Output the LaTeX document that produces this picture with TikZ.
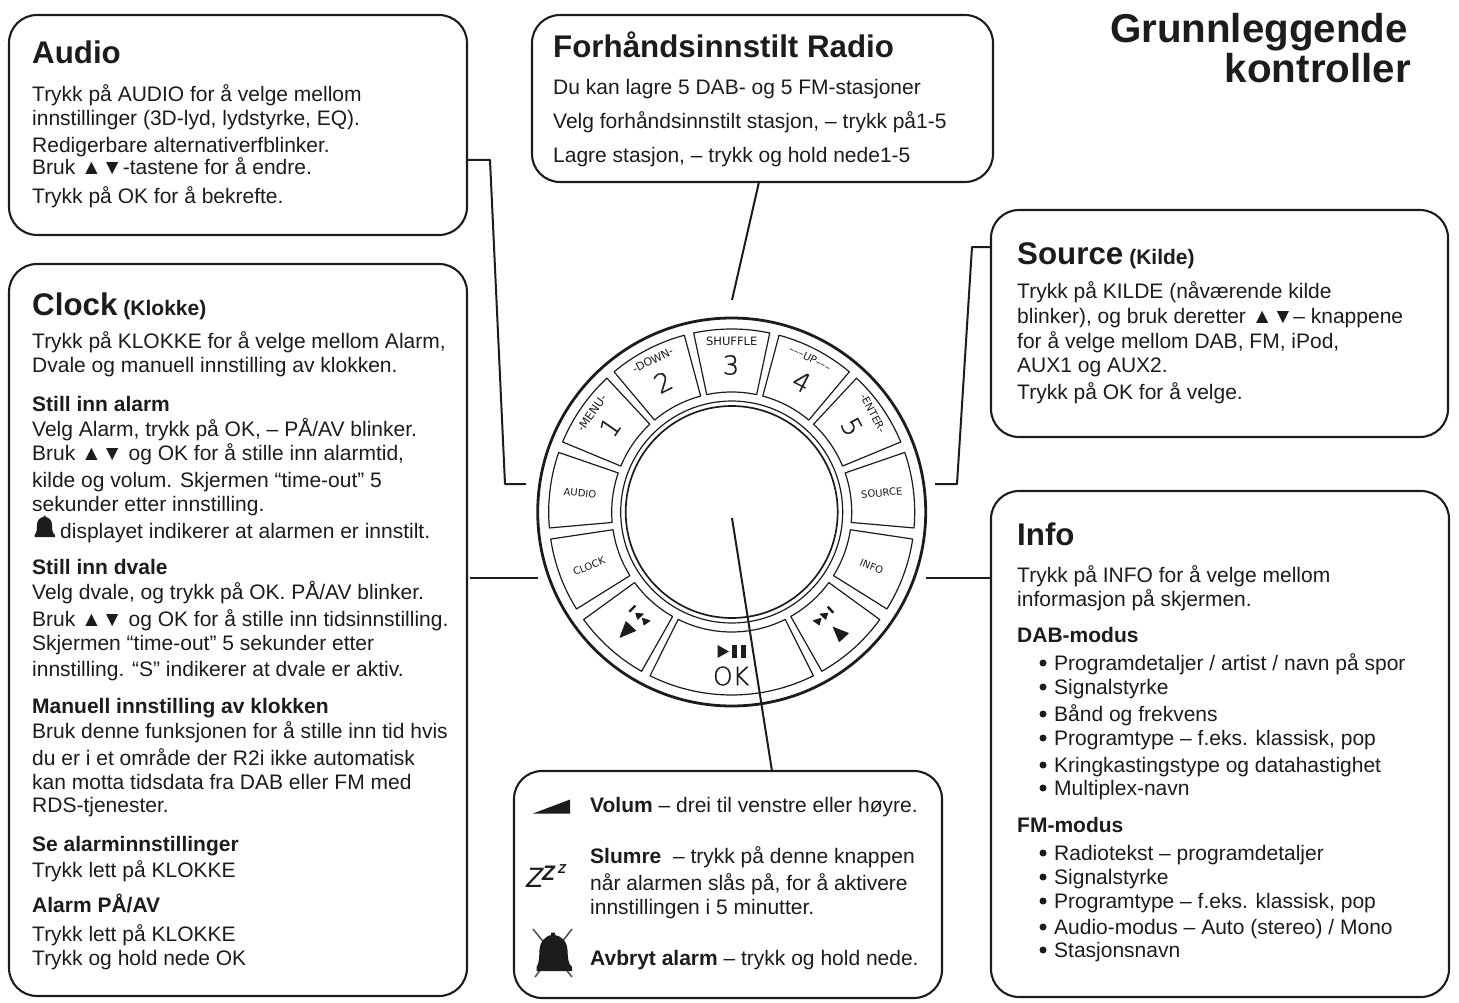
\documentclass[tikz,border=0pt]{standalone}
\usepackage{fontspec}
\setmainfont{Liberation Sans}
\newfontfamily\ringfont[FakeBold=1.2]{DejaVu Sans ExtraLight}
\newfontfamily\ringlabel{DejaVu Sans}
\definecolor{ink}{HTML}{1C1C1C}
\newcounter{tlc}
\newcommand{\fs}[1]{\fontsize{#1}{#1}\selectfont}
\newcommand{\tl}[3]{\stepcounter{tlc}\node[txt] (tl\arabic{tlc}) at (#1,#2) {#3};}
\newcommand{\hd}[3]{\stepcounter{tlc}\node[txt,font=\fs{21}\bfseries] (tl\arabic{tlc}) at (#1,#2) {#3};}
\newcommand{\ttl}[3]{\stepcounter{tlc}\node[txt,font=\fs{31.3}\bfseries] (tl\arabic{tlc}) at (#1,#2) {#3};}
\newcommand{\rl}[5]{\stepcounter{tlc}\node[ringtxt,font=\ringlabel\fs{#4},rotate=#3] (rl\arabic{tlc}) at (#1,#2) {#5};}
\newcommand{\rd}[5]{\stepcounter{tlc}\node[ringtxt,font=\ringfont\fs{#4},rotate=#3] (rd\arabic{tlc}) at (#1,#2) {#5};}
\newcommand{\bl}[2]{\stepcounter{tlc}\node[dotn] (bd\arabic{tlc}) at (1043,#1-7) {};\node[txt] (tl\arabic{tlc}) at (1054,#1) {#2};}
\tikzset{
 panel/.style={draw=ink,line width=2.1pt,rounded corners=28pt,fill=white,inner sep=0pt,outer sep=0pt,anchor=north west},
 txt/.style={anchor=base west,inner sep=0pt,text=ink,font=\fs{21}},
 ringtxt/.style={inner sep=0pt,text=ink,anchor=center},
 conn/.style={draw=ink,line width=2pt,line join=round},
 seg/.style={draw=ink,line width=1.2pt,fill=white,line join=round},
 dotn/.style={circle,fill=ink,minimum size=7pt,inner sep=0pt},
 icon/.style={fill=ink,draw=ink,line width=0.8pt,line join=round},
}
\begin{document}
\begin{tikzpicture}[x=1pt,y=-1pt]
\useasboundingbox (0,0) rectangle (1459,1003);
% panels
\node[panel,minimum width=458pt,minimum height=220pt] (audiobox) at (9,15) {};
\node[panel,minimum width=461pt,minimum height=167pt] (radiobox) at (532,15) {};
\node[panel,minimum width=458pt,minimum height=732pt] (clockbox) at (9,264) {};
\node[panel,minimum width=457pt,minimum height=227pt] (sourcebox) at (991,210) {};
\node[panel,minimum width=458pt,minimum height=506pt] (infobox) at (991,491) {};
\node[panel,minimum width=428pt,minimum height=227pt] (volbox) at (514,771) {};
% ring
\node[circle,draw=ink,line width=2.8pt,minimum size=388pt,inner sep=0pt] (ring) at (731.7,512) {};
\begin{scope}[shift={(731.7,512)},x=1pt,y=1pt]
\foreach \a/\b in {-12/12,15/40,43/67.5,71/95,98.5/122,126/150.5,153.5/206.5,209.5/234,238/261.5,265/289,292.5/317,320/345}{
  \draw[seg] (90+\a:183) arc[start angle=90+\a,end angle=90+\b,radius=183]
    -- (90+\b:120) arc[start angle=90+\b,end angle=90+\a,radius=120] -- cycle;
}
\draw[ink,line width=1.2pt] (0,0) circle[radius=111];
\draw[ink,line width=1.7pt] (0,0) circle[radius=106];
\end{scope}
% ring labels
\rl{731.7}{341}{0}{11.5}{SHUFFLE}
\rd{731}{365}{0}{26}{3}
\rl{652.7}{360}{27}{11}{-DOWN-}
\rd{663}{382}{27}{26}{2}
\rl{591.7}{413}{55}{11.5}{-MENU-}
\rd{610}{427}{55}{26}{1}
\rl{580}{493}{-5}{10}{AUDIO}
\rl{589}{566}{22}{10}{CLOCK}
\rl{810}{358}{-27}{10.5}{–––UP–––}
\rd{801.7}{381.7}{-27}{26}{4}
\rl{873}{413}{-62}{10.5}{-ENTER-}
\rd{851.7}{426.7}{-62}{26}{5}
\rl{881.7}{493}{5}{10}{SOURCE}
\rl{871.7}{566.7}{-22}{10}{INFO}
\rd{731}{676}{0}{25}{OK}
% transport icons
\filldraw[icon] (620,637.3) -- (626,621.7) -- (635.7,630.7) -- cycle;
\filldraw[icon] (643.4,614) -- (635.7,613.3) -- (637.7,619.3) -- cycle;
\filldraw[icon] (650,620.7) -- (642.4,618.3) -- (644,625) -- cycle;
\draw[ink,line width=2.4pt] (629.3,611.7) -- (635.3,605.7);
\filldraw[icon] (833.3,627.3) -- (848.3,633.3) -- (839.3,641.7) -- cycle;
\filldraw[icon] (820,614) -- (827.7,613.3) -- (825.7,619.3) -- cycle;
\filldraw[icon] (813.3,620.7) -- (821,618.3) -- (819.3,625) -- cycle;
\draw[ink,line width=2.4pt] (827.7,606.7) -- (833.3,612.7);
\fill[ink] (717.5,645) -- (717.5,658) -- (729,651.5) -- cycle;
\fill[ink] (732,645) rectangle (737,658);
\fill[ink] (741,645) rectangle (746,658);
% connectors
\coordinate (a1) at (490,160); \coordinate (a2) at (505,484); \coordinate (a3) at (526,484);
\draw[conn] (audiobox.east |- a1) -- (a1) -- (a2) -- (a3);
\coordinate (r1) at (759,182); \coordinate (r2) at (732,300);
\draw[conn] (r1) -- (r2);
\coordinate (s1) at (972,247); \coordinate (s2) at (957,484); \coordinate (s3) at (935,484);
\draw[conn] (sourcebox.west |- s1) -- (s1) -- (s2) -- (s3);
\coordinate (c1) at (470,578); \coordinate (c2) at (538,578);
\draw[conn] (c1) -- (c2);
\coordinate (i1) at (926,578);
\draw[conn] (i1) -- (infobox.west |- i1);
\coordinate (o1) at (732,518); \coordinate (o2) at (772,771);
\draw[conn] (o1) -- (o2);
% page title
\node[anchor=base east,inner sep=0pt,text=ink,font=\fs{40.3}\bfseries] (title1) at (1408,43) {Grunnleggende};
\node[anchor=base east,inner sep=0pt,text=ink,font=\fs{40.3}\bfseries] (title2) at (1411,83) {kontroller};
% Audio
\ttl{32}{64}{Audio}
\tl{32}{102}{Trykk på AUDIO for å velge mellom}
\tl{32}{126}{innstillinger (3D-lyd, lydstyrke, EQ).}
\tl{32}{153}{Redigerbare alternativerfblinker.}
\tl{32}{175}{Bruk ▲▼-tastene for å endre.}
\tl{32}{204}{Trykk på OK for å bekrefte.}
% Radio
\ttl{553}{58}{Forhåndsinnstilt Radio}
\tl{553}{95}{Du kan lagre 5 DAB- og 5 FM-stasjoner}
\tl{553}{129}{Velg forhåndsinnstilt stasjon, – trykk på1-5}
\tl{553}{163}{Lagre stasjon, – trykk og hold nede1-5}
% Clock
\ttl{32}{315}{Clock\hspace{6pt}{\fs{21}(Klokke)}}
\tl{32}{348}{Trykk på KLOKKE for å velge mellom Alarm,}
\tl{32}{372}{Dvale og manuell innstilling av klokken.}
\hd{32}{411}{Still inn alarm}
\tl{32}{436}{Velg Alarm, trykk på OK, – PÅ/AV blinker.}
\tl{32}{460}{Bruk ▲▼ og OK for å stille inn alarmtid,}
\tl{32}{487}{kilde og volum. Skjermen “time-out” 5}
\tl{32}{511}{sekunder etter innstilling.}
\fill[ink] (34.5,537) -- (34.5,535) .. controls (37,533) and (37,528) .. (37,525) .. controls (37,520) and (40,517.5) .. (43.5,517) -- (43.5,515.5) -- (45.5,515.5) -- (45.5,517) .. controls (49,517.5) and (52,520) .. (52,525) .. controls (52,528) and (52,533) .. (55,535) -- (55,537) -- cycle;
\tl{60}{538}{displayet indikerer at alarmen er innstilt.}
\hd{32}{574}{Still inn dvale}
\tl{32}{599}{Velg dvale, og trykk på OK. PÅ/AV blinker.}
\tl{32}{626}{Bruk ▲▼ og OK for å stille inn tidsinnstilling.}
\tl{32}{650}{Skjermen “time-out” 5 sekunder etter}
\tl{32}{676}{innstilling. “S” indikerer at dvale er aktiv.}
\hd{32}{713}{Manuell innstilling av klokken}
\tl{32}{738}{Bruk denne funksjonen for å stille inn tid hvis}
\tl{32}{765}{du er i et område der R2i ikke automatisk}
\tl{32}{789}{kan motta tidsdata fra DAB eller FM med}
\tl{32}{812}{RDS-tjenester.}
\hd{32}{851}{Se alarminnstillinger}
\tl{32}{877}{Trykk lett på KLOKKE}
\hd{32}{912}{Alarm PÅ/AV}
\tl{32}{941}{Trykk lett på KLOKKE}
\tl{32}{965}{Trykk og hold nede OK}
% Source
\ttl{1017}{264}{Source\hspace{6pt}{\fs{21}(Kilde)}}
\tl{1017}{298}{Trykk på KILDE (nåværende kilde}
\tl{1017}{323}{blinker), og bruk deretter ▲▼– knappene}
\tl{1017}{348}{for å velge mellom DAB, FM, iPod,}
\tl{1017}{372}{AUX1 og AUX2.}
\tl{1017}{399}{Trykk på OK for å velge.}
% Info
\ttl{1017}{545}{Info}
\tl{1017}{582}{Trykk på INFO for å velge mellom}
\tl{1017}{606}{informasjon på skjermen.}
\hd{1017}{642}{DAB-modus}
\bl{670}{Programdetaljer / artist / navn på spor}
\bl{694}{Signalstyrke}
\bl{721}{Bånd og frekvens}
\bl{745}{Programtype – f.eks. klassisk, pop}
\bl{772}{Kringkastingstype og datahastighet}
\bl{795}{Multiplex-navn}
\hd{1017}{832}{FM-modus}
\bl{860}{Radiotekst – programdetaljer}
\bl{884}{Signalstyrke}
\bl{908}{Programtype – f.eks. klassisk, pop}
\bl{934}{Audio-modus – Auto (stereo) / Mono}
\bl{957}{Stasjonsnavn}
% Volume panel
\fill[ink] (533,813.5) -- (570,799.5) -- (570,813.5) -- cycle;
\tl{590}{812}{\textbf{Volum} – drei til venstre eller høyre.}
\node[txt,font=\fs{28}\itshape] (zz1) at (526,887) {Z};
\node[txt,font=\fs{21}\itshape\bfseries] (zz2) at (542,880) {Z};
\node[txt,font=\fs{13}\itshape\bfseries] (zz3) at (558,873) {Z};
\draw[ink!75,line width=1.6pt] (533,929) -- (572,977) (572,929) -- (535,977);
\fill[ink] (536.5,971) -- (536.5,967) .. controls (539.5,963) and (539,957) .. (539.5,950) .. controls (540,941) and (546,936) .. (551,935) -- (551,932.5) -- (555,932.5) -- (555,935) .. controls (561,936) and (567,941) .. (567.5,950) .. controls (568,957) and (567.5,963) .. (572,967) -- (572,971) -- cycle;
\tl{590}{863}{\textbf{Slumre}~ – trykk på denne knappen}
\tl{590}{890}{når alarmen slås på, for å aktivere}
\tl{590}{914}{innstillingen i 5 minutter.}
\tl{590}{965}{\textbf{Avbryt alarm} – trykk og hold nede.}
\end{tikzpicture}
\end{document}
